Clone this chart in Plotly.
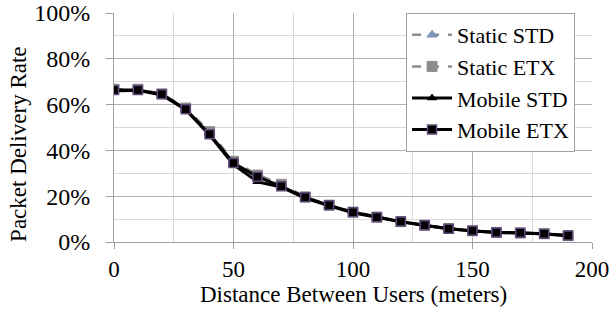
import plotly.graph_objects as go

distance = [0, 10, 20, 30, 40, 50, 60, 70, 80, 90, 100, 110, 120, 130, 140, 150, 160, 170, 180, 190]
static_std = [0.665, 0.665, 0.645, 0.585, 0.480, 0.350, 0.295, 0.250, 0.198, 0.160, 0.132, 0.110, 0.090, 0.074, 0.060, 0.050, 0.043, 0.040, 0.036, 0.029]
static_etx = [0.667, 0.667, 0.647, 0.585, 0.482, 0.352, 0.292, 0.252, 0.197, 0.161, 0.131, 0.109, 0.089, 0.073, 0.059, 0.049, 0.042, 0.039, 0.036, 0.028]
mobile_std = [0.660, 0.662, 0.642, 0.578, 0.467, 0.338, 0.263, 0.240, 0.192, 0.158, 0.128, 0.107, 0.088, 0.072, 0.058, 0.048, 0.041, 0.039, 0.035, 0.027]
mobile_etx = [0.664, 0.664, 0.645, 0.580, 0.470, 0.345, 0.285, 0.243, 0.195, 0.160, 0.130, 0.108, 0.089, 0.073, 0.058, 0.049, 0.042, 0.040, 0.036, 0.028]
x_title = "Distance Between Users (meters)"
y_title = "Packet Delivery Rate"

font = "Liberation Serif"
fig = go.Figure()
fig.add_trace(go.Scatter(x=distance, y=static_std, name="Static STD", mode="lines+markers",
                         line=dict(color="#8c8c8c", width=2.5, dash="dash"),
                         marker=dict(symbol="triangle-up", size=9, color="#7f96b8", line=dict(color="#7f96b8", width=1))))
fig.add_trace(go.Scatter(x=distance, y=static_etx, name="Static ETX", mode="lines+markers",
                         line=dict(color="#8c8c8c", width=2.5, dash="dash"),
                         marker=dict(symbol="square", size=10, color="#8c8c8c", line=dict(color="#8c8c8c", width=1))))
fig.add_trace(go.Scatter(x=distance, y=mobile_std, name="Mobile STD", mode="lines+markers",
                         line=dict(color="#000000", width=3),
                         marker=dict(symbol="triangle-up", size=9, color="#000000")))
fig.add_trace(go.Scatter(x=distance, y=mobile_etx, name="Mobile ETX", mode="lines+markers",
                         line=dict(color="#000000", width=3),
                         marker=dict(symbol="square", size=9, color="#000000", line=dict(color="#604a7b", width=1.5))))

fig.update_layout(
    width=612, height=312,
    margin=dict(l=114, r=20, t=13, b=70, autoexpand=False),
    paper_bgcolor="white", plot_bgcolor="white",
    font=dict(family=font, size=23, color="#000000"),
    showlegend=True,
    legend=dict(x=0.611, y=1.0, xanchor="left", yanchor="top",
                bordercolor="#a0a0a0", borderwidth=1, bgcolor="white",
                font=dict(family=font, size=22, color="#000000"), itemwidth=40, tracegroupgap=0),
    xaxis=dict(range=[0, 200], dtick=50, tick0=0, showgrid=True, gridcolor="#b0b0b0", gridwidth=1,
               minor=dict(dtick=25, showgrid=True, gridcolor="#d9d9d9", gridwidth=1),
               ticks="outside", ticklen=6, tickcolor="#a0a0a0", ticklabelstandoff=0,
               showline=True, linecolor="#a0a0a0", zeroline=False,
               tickfont=dict(family=font, size=23, color="#000000")),
    yaxis=dict(range=[0, 1.0], dtick=0.2, tick0=0, tickformat=".0%", showgrid=True, gridcolor="#b0b0b0", gridwidth=1,
               minor=dict(dtick=0.1, showgrid=True, gridcolor="#d9d9d9", gridwidth=1),
               ticks="outside", ticklen=7, tickcolor="#a0a0a0", ticklabelstandoff=11,
               showline=True, linecolor="#a0a0a0", zeroline=False,
               tickfont=dict(family=font, size=24, color="#000000")),
    annotations=[
        dict(text=x_title, xref="paper", yref="paper", x=0.5, y=-0.2314, xanchor="center", yanchor="middle",
             showarrow=False, font=dict(family=font, size=23, color="#000000")),
        dict(text=y_title, xref="paper", yref="paper", x=-0.2, y=0.4258, xanchor="center", yanchor="middle",
             textangle=-90, showarrow=False, font=dict(family=font, size=23, color="#000000")),
    ],
)
fig.write_html("out.html", config={"displayModeBar": False}, post_script="document.body.style.margin='0';")
